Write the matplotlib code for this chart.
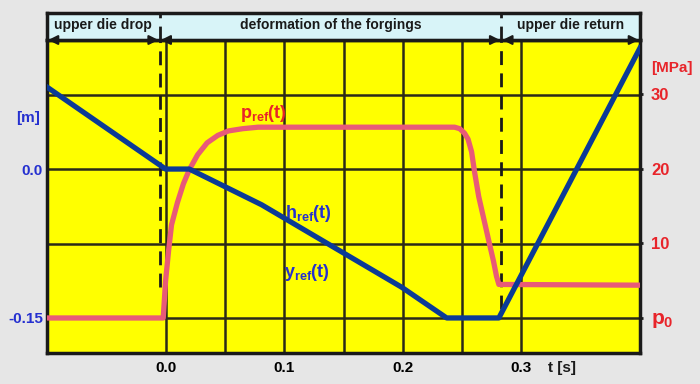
import numpy as np
import matplotlib
matplotlib.use("Agg")
import matplotlib.pyplot as plt

plt.rcParams['font.family'] = ['Liberation Sans', 'DejaVu Sans']
plt.rcParams['font.weight'] = 'bold'
plt.rcParams['mathtext.fontset'] = 'custom'
plt.rcParams['mathtext.rm'] = 'Liberation Sans:bold'
plt.rcParams['mathtext.bf'] = 'Liberation Sans:bold'

# die stroke h_ref / y_ref [m]
t_h = [-0.1, 0.0, 0.02, 0.081, 0.199, 0.237, 0.281, 0.40]
h = [0.0826, 0.0, 0.0, -0.036, -0.119, -0.15, -0.15, 0.122]

# reference pressure p_ref [MPa]
t_p = [-0.1, -0.002, 0.0, 0.0025, 0.005, 0.01, 0.015, 0.02, 0.027, 0.035,
       0.044, 0.053, 0.065, 0.078, 0.2437, 0.248, 0.252, 0.255, 0.258, 0.2605,
       0.264, 0.269, 0.273, 0.2765, 0.279, 0.281, 0.40]
p = [0.0, 0.0, 5.0, 9.0, 12.5, 15.5, 18.0, 19.9, 21.9, 23.5,
     24.5, 25.1, 25.4, 25.6, 25.6, 25.4, 24.8, 24.0, 22.3, 19.6,
     16.3, 12.8, 10.0, 7.6, 5.6, 4.5, 4.4]

phase_names = ['upper die drop', 'deformation of the forgings', 'upper die return']
phase_bounds = [-0.1, -0.005, 0.283, 0.4]

x_major = [0.0, 0.1, 0.2, 0.3]
x_minor = [0.05, 0.15, 0.25]
h_ticks = [-0.15, 0.0]
h_minor = [-0.075, 0.075]
p_ticks = [0, 10, 20, 30]
p_labels = ['p$_0$', '10', '20', '30']

blue = '#0b3a96'
pink = '#e85a78'
lbl_blue = '#2530d0'
red = '#e8242a'
gridc = '#2b2a18'

fig = plt.figure(figsize=(7, 3.84), dpi=100)
fig.patch.set_facecolor('#e6e6e6')

ax = fig.add_axes([47/700, 1-353/384, 593/700, 313/384])
ax.set_facecolor('#ffff00')
ax.set_xlim(-0.1, 0.4)
ax.set_ylim(-0.1853, 0.130)
ax.set_xticks(x_major)
ax.set_xticks(x_minor, minor=True)
ax.set_xticklabels(['0.0', '0.1', '0.2', '0.3'], fontsize=11, fontweight='bold')
ax.set_yticks(h_ticks)
ax.set_yticks(h_minor, minor=True)
ax.set_yticklabels(['-0.15', '0.0'], fontsize=11, fontweight='bold', color=lbl_blue)
ax.tick_params(which='both', length=0)
ax.tick_params(axis='y', pad=3)
ax.tick_params(axis='x', pad=6)
ax.grid(True, which='both', color=gridc, lw=1.8)
ax.set_axisbelow(True)
for s in ax.spines.values():
    s.set_linewidth(2.5)
    s.set_color('#1a1a1a')

# phase separators (dashed, from the header down into the plot)
ax.axvline(phase_bounds[1], color='#1a1a1a', lw=2, ls=(0, (5, 3)), ymin=0.21)
ax.axvline(phase_bounds[2], color='#1a1a1a', lw=2, ls=(0, (5, 3)), ymin=0.14)

ax2 = ax.twinx()
ax2.set_ylim(-4.7, 37.3)
ax2.set_yticks(p_ticks)
ax2.set_yticklabels(p_labels, fontsize=12, fontweight='bold', color=red)
ax2.get_yticklabels()[0].set_fontsize(15)
ax2.tick_params(length=2, width=2, color='#1a1a1a', pad=6)
for s in ax2.spines.values():
    s.set_visible(False)

ax2.plot(t_p, p, color=pink, lw=3.8, solid_capstyle='butt',
         solid_joinstyle='round', zorder=3)
ax2.set_zorder(ax.get_zorder() + 1)
ax2.patch.set_visible(False)
ax2.plot(t_h, h, color=blue, lw=3.8, transform=ax.transData, zorder=4)

ax2.text(0.0826, 27.5, r'p$_{\mathbf{ref}}$(t)', color=red, fontsize=13,
         fontweight='bold', ha='center', va='center')
ax.text(0.1206, -0.0443, r'h$_{\mathbf{ref}}$(t)', color=lbl_blue, fontsize=13,
        fontweight='bold', ha='center', va='center', zorder=6)
ax.text(0.119, -0.1047, r'y$_{\mathbf{ref}}$(t)', color=lbl_blue, fontsize=13,
        fontweight='bold', ha='center', va='center', zorder=6)

# header band with phases
axh = fig.add_axes([47/700, 1-40/384, 593/700, 27/384])
axh.set_facecolor('#d8f4f8')
axh.set_xlim(-0.1, 0.4)
axh.set_ylim(0, 1)
axh.set_xticks([])
axh.set_yticks([])
for s in axh.spines.values():
    s.set_linewidth(2.5)
    s.set_color('#1a1a1a')
for i, name in enumerate(phase_names):
    a, b = phase_bounds[i], phase_bounds[i + 1]
    axh.text((a + b) / 2, 0.55, name, ha='center', va='center', fontsize=10,
             fontweight='bold', color='#1a1a1a')
    axh.annotate('', xy=(a + 0.001, 0.0), xytext=(b - 0.001, 0.0),
                 arrowprops=dict(arrowstyle='<|-|>', color='#1a1a1a', lw=1.5,
                                 mutation_scale=14, shrinkA=0, shrinkB=0),
                 annotation_clip=False)
for xb in phase_bounds[1:3]:
    axh.axvline(xb, color='#1a1a1a', lw=2, ls=(0, (5, 3)))

fig.text(28/700, 1-118/384, '[m]', color=lbl_blue, fontsize=11,
         fontweight='bold', ha='center', va='center')
fig.text(672/700, 1-68/384, '[MPa]', color=red, fontsize=11,
         fontweight='bold', ha='center', va='center')
fig.text(562/700, 1-368/384, 't [s]', color='#1a1a1a', fontsize=11,
         fontweight='bold', ha='center', va='center')

fig.savefig('out.png', dpi=100, facecolor=fig.get_facecolor())
